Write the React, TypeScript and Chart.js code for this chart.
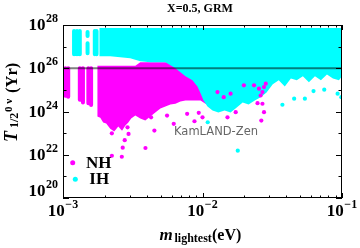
import { useEffect, useRef } from "react";
import { Chart, registerables } from "chart.js";

Chart.register(...registerables);

const chartTitle = "X=0.5, GRM";
const xAxisMin = 1e-3;
const xAxisMax = 1e-1;
const yAxisMin = 1e20;
const yAxisMax = 1e28;
const xTickExponents = [-3, -2, -1];
const yTickExponents = [20, 22, 24, 26, 28];
const kamlandLimit = 1e26;
const kamlandLabel = "KamLAND-Zen";
const kamlandLabelAt = { m: 6.25e-3, t: 7.9e22 };
const legendLabels = ["NH", "IH"];

const NH_COLOR = "#ff00ff";
const IH_COLOR = "#00ffff";

// NH: separate streak columns near m = 1e-3
const nhColumnM = [1.04e-3, 1.09e-3, 1.32e-3, 1.39e-3, 1.52e-3, 1.59e-3];
const nhColumnTop = [1e26, 1e26, 1e26, 1e26, 1e26, 1e26];
const nhColumnBottom = [5.3e24, 4.8e24, 3.5e24, 2.6e24, 2.4e24, 2.0e24];

// NH: dense band (upper and lower edge)
const nhBandM = [
  1.76e-3, 1.85e-3, 1.94e-3, 2.04e-3, 2.18e-3, 2.33e-3, 2.49e-3, 2.65e-3, 2.79e-3,
  2.94e-3, 3.08e-3, 3.3e-3, 3.58e-3, 3.89e-3, 4.23e-3, 4.59e-3, 4.99e-3, 5.42e-3,
  5.89e-3, 6.4e-3, 6.95e-3, 7.55e-3, 8.47e-3, 9.68e-3, 1.05e-2, 1.14e-2, 1.24e-2,
];
const nhBandTop = [
  1.3e26, 1.3e26, 1.3e26, 1.3e26, 1.3e26, 1.3e26, 1.3e26, 1.3e26, 1.3e26, 1.3e26,
  1.3e26, 1.3e26, 1.9e26, 1.9e26, 1.9e26, 1.9e26, 1.9e26, 1.9e26, 1.9e26, 1.9e26,
  1.9e26, 1.9e26, 1.9e26, 1.9e26, 1.9e26, 1.9e26, 1.9e26,
];
const nhBandBottom = [
  5.85e23, 5.2e23, 3.08e23, 2.75e23, 1.6e23, 1.18e23, 2.0e23, 1.3e23, 2.2e23,
  3.08e23, 4.7e23, 6.5e23, 4.7e23, 3.8e23, 5.85e23, 8.9e23, 1.38e24, 1.7e24,
  2.1e24, 2.3e24, 2.9e24, 3.2e24, 3.2e24, 3.2e24, 2.3e24, 1.9e24, 1.9e24,
];

// NH: isolated points
const nhDotM = [
  2.24e-3, 2.24e-3, 2.64e-3, 2.68e-3, 2.77e-3, 2.9e-3, 2.95e-3, 3.9e-3, 4.28e-3,
  4.52e-3, 5.57e-3, 6.22e-3, 7.76e-3, 8.76e-3, 9.4e-3, 1.0e-2, 1.51e-2, 1.73e-2,
  2.64e-2, 2.76e-2,
];
const nhDotT = [
  9.8e22, 8.98e21, 8.1e21, 2.12e22, 4.72e22, 1.86e23, 9.2e22, 2.05e22, 5.4e23,
  1.31e23, 6.5e23, 2.68e23, 7.8e23, 3.54e23, 8.7e23, 5.4e23, 5.4e23, 9.3e23,
  3.8e23, 9.3e23,
];

// NH: points visible on top of the IH cloud
const nhOverM = [
  1.28e-2, 1.42e-2, 1.59e-2, 1.98e-2, 2.34e-2, 2.54e-2, 2.69e-2, 2.76e-2, 2.84e-2,
  2.61e-2, 2.48e-2, 2.69e-2,
];
const nhOverT = [
  7.9e24, 4.6e24, 6.65e24, 1.62e25, 1.62e25, 1.14e25, 7.9e24, 1.35e25, 1.94e25,
  5.5e24, 2.43e24, 2.28e24,
];

// IH: separate streak columns near m = 1e-3
const ihColumnM = [1.2e-3, 1.26e-3, 1.32e-3, 1.5e-3, 1.5e-3, 1.69e-3, 1.74e-3];
const ihColumnTop = [5.3e27, 5.3e27, 5.3e27, 4.7e27, 1.45e27, 5.3e27, 5.3e27];
const ihColumnBottom = [4.4e26, 4.4e26, 4.4e26, 3.1e27, 5.0e26, 4.4e26, 4.4e26];

// IH: dense band, upper edge and lower edge
const ihBandTop = 7.2e27;
const ihBandM = [
  1.82e-3, 2.18e-3, 2.57e-3, 3.03e-3, 3.58e-3, 4.23e-3, 4.99e-3, 5.42e-3, 5.89e-3,
  6.4e-3, 6.95e-3, 7.55e-3, 8.47e-3, 9.2e-3, 9.68e-3, 1.017e-2, 1.086e-2, 1.18e-2,
  1.3e-2, 1.44e-2, 1.59e-2, 1.76e-2, 1.94e-2, 2.14e-2, 2.37e-2, 2.61e-2, 2.88e-2,
  3.19e-2, 3.52e-2, 3.89e-2, 4.3e-2, 4.74e-2, 5.24e-2, 5.79e-2, 6.4e-2, 7.06e-2,
  7.8e-2, 8.61e-2, 9.51e-2, 1e-1,
];
const ihBandBottom = [
  3.6e26, 3.6e26, 3.25e26, 2.9e26, 2.1e26, 1.9e26, 1.9e26, 1.9e26, 1.38e26, 1.0e26,
  6.5e25, 4.25e25, 2.75e25, 1.45e25, 6.9e24, 3.25e24, 1.7e24, 1.12e24, 8.9e23,
  1.12e24, 8.9e23, 1.55e24, 2.6e24, 2.1e24, 3.25e24, 4.5e24, 7.6e24, 1.82e25,
  2.75e25, 1.45e25, 3.4e25, 2.75e25, 4.25e25, 2.23e25, 4.25e25, 2.75e25, 5.2e25,
  3.4e25, 2.75e25, 4.25e25,
];

// IH: isolated points
const ihDotM = [1.09e-2, 1.79e-2, 3.74e-2, 4.54e-2, 5.42e-2, 6.25e-2, 7.46e-2, 9.3e-2, 9.89e-2];
const ihDotT = [3.18e23, 1.54e22, 2.05e24, 3.9e24, 3.9e24, 8.8e24, 1.02e25, 6.65e24, 4.6e24];

const SERIF = '"Liberation Serif", "Times New Roman", serif';

function zip(xs: number[], ys: number[]) {
  return xs.map((x, i) => ({ x, y: ys[i] }));
}

function streaks(xs: number[], tops: number[], bottoms: number[]) {
  const out: { x: number; y: number | null }[] = [];
  xs.forEach((x, i) => {
    out.push({ x, y: tops[i] }, { x, y: bottoms[i] }, { x, y: null });
  });
  return out;
}

function drawPower(
  ctx: CanvasRenderingContext2D,
  exp: string,
  x: number,
  baseline: number,
  align: "right" | "center"
) {
  const baseFont = `bold 17px ${SERIF}`;
  const expFont = `bold 12px ${SERIF}`;
  ctx.font = baseFont;
  const wb = ctx.measureText("10").width;
  ctx.font = expFont;
  const we = ctx.measureText(exp).width;
  const total = wb + we + 0.5;
  const start = align === "right" ? x - total : x - total / 2;
  ctx.textAlign = "left";
  ctx.textBaseline = "alphabetic";
  ctx.font = baseFont;
  ctx.fillText("10", start, baseline);
  ctx.font = expFont;
  ctx.fillText(exp, start + wb + 0.5, baseline - 8);
}

const decorPlugin = {
  id: "decor",
  afterDatasetsDraw(chart: any) {
    const { ctx, chartArea: a, scales } = chart;
    const xs = scales.x;
    const ys = scales.y;
    ctx.save();
    // KamLAND-Zen label
    ctx.fillStyle = "#666666";
    ctx.font = '11.5px "DejaVu Sans", sans-serif';
    ctx.textAlign = "left";
    ctx.textBaseline = "alphabetic";
    ctx.fillText(
      kamlandLabel,
      xs.getPixelForValue(kamlandLabelAt.m),
      ys.getPixelForValue(kamlandLabelAt.t)
    );

    // frame ticks
    ctx.strokeStyle = "#000";
    ctx.lineWidth = 1;
    ctx.beginPath();
    for (let e = xTickExponents[0]; e <= xTickExponents[xTickExponents.length - 1]; e++) {
      for (let k = 1; k <= 9; k++) {
        const v = k * Math.pow(10, e);
        if (v > xAxisMax * 1.0001) break;
        const px = Math.round(xs.getPixelForValue(v)) + 0.5;
        const len = k === 1 ? 5 : 2.5;
        ctx.moveTo(px, a.bottom);
        ctx.lineTo(px, a.bottom - len);
        ctx.moveTo(px, a.top);
        ctx.lineTo(px, a.top + len);
      }
    }
    for (let e = 20; e <= 28; e++) {
      const py = Math.round(ys.getPixelForValue(Math.pow(10, e))) + 0.5;
      const len = e % 2 === 0 ? 6 : 3.5;
      ctx.moveTo(a.left, py);
      ctx.lineTo(a.left + len, py);
      ctx.moveTo(a.right, py);
      ctx.lineTo(a.right - len, py);
    }
    ctx.stroke();
    ctx.strokeRect(a.left + 0.5, a.top + 0.5, a.right - a.left - 1, a.bottom - a.top - 1);

    // tick labels
    ctx.fillStyle = "#000";
    yTickExponents.forEach((e) => {
      const py = ys.getPixelForValue(Math.pow(10, e));
      const baseline = e === 20 ? py - 2 : py + 5;
      drawPower(ctx, String(e), a.left - 5, baseline, "right");
    });
    xTickExponents.forEach((e) => {
      const px = xs.getPixelForValue(Math.pow(10, e));
      drawPower(ctx, "\u2212" + String(-e), px, a.bottom + 18, "center");
    });

    // title
    ctx.font = `bold 12px ${SERIF}`;
    ctx.textAlign = "center";
    ctx.fillText(chartTitle, 200, 12);

    // x axis title
    ctx.textAlign = "left";
    ctx.font = `italic bold 17px ${SERIF}`;
    ctx.fillText("m", 159.5, 240);
    ctx.font = `bold 12px ${SERIF}`;
    ctx.fillText("lightest", 174.5, 242);
    ctx.font = `bold 16px ${SERIF}`;
    ctx.fillText("(eV)", 212, 240);

    // y axis title (rotated)
    ctx.save();
    ctx.translate(17, 142);
    ctx.rotate(-Math.PI / 2);
    ctx.font = `italic bold 18px ${SERIF}`;
    ctx.fillText("T", 0, 0);
    ctx.font = `bold 12px ${SERIF}`;
    ctx.fillText("1/2", 14, 1);
    ctx.font = `bold 11px ${SERIF}`;
    ctx.fillText("0 \u03bd", 30, -5);
    ctx.font = `bold 16.5px ${SERIF}`;
    ctx.fillText("(Yr)", 49, 0);
    ctx.restore();

    // legend
    ctx.fillStyle = NH_COLOR;
    ctx.beginPath();
    ctx.arc(72.7, 162.7, 2.5, 0, Math.PI * 2);
    ctx.fill();
    ctx.fillStyle = IH_COLOR;
    ctx.beginPath();
    ctx.arc(75.3, 179.3, 2.5, 0, Math.PI * 2);
    ctx.fill();
    ctx.fillStyle = "#000";
    ctx.font = `bold 17px ${SERIF}`;
    ctx.textAlign = "left";
    ctx.fillText(legendLabels[0], 86, 167.7);
    ctx.fillText(legendLabels[1], 89.3, 184.3);
    ctx.restore();
  },
};

export default function App() {
  const ref = useRef<HTMLCanvasElement>(null);
  useEffect(() => {
    const pointDs = (data: any[], color: string, order: number) => ({
      data,
      order,
      showLine: false,
      pointRadius: 2.1,
      pointBorderWidth: 0,
      pointBackgroundColor: color,
      pointBorderColor: color,
    });
    const streakDs = (data: any[], color: string, order: number) => ({
      data,
      order,
      showLine: true,
      spanGaps: false,
      borderColor: color,
      borderWidth: 4,
      borderCapStyle: "round",
      pointRadius: 0,
      fill: false,
    });
    const chart = new Chart(ref.current!, {
      type: "scatter",
      data: {
        datasets: [
          {
            data: [
              { x: xAxisMin, y: kamlandLimit },
              { x: xAxisMax, y: kamlandLimit },
            ],
            order: 0,
            showLine: true,
            borderColor: "rgba(0,0,0,0.5)",
            borderWidth: 2,
            pointRadius: 0,
            fill: false,
          },
          pointDs(zip(nhOverM, nhOverT), NH_COLOR, 1),
          pointDs(zip(ihDotM, ihDotT), IH_COLOR, 2),
          streakDs(streaks(ihColumnM, ihColumnTop, ihColumnBottom), IH_COLOR, 3),
          {
            data: zip(ihBandM, ihBandBottom),
            order: 4,
            showLine: true,
            borderWidth: 0,
            borderColor: IH_COLOR,
            backgroundColor: IH_COLOR,
            pointRadius: 0,
            fill: { value: ihBandTop },
          },
          pointDs(zip(nhDotM, nhDotT), NH_COLOR, 5),
          streakDs(streaks(nhColumnM, nhColumnTop, nhColumnBottom), NH_COLOR, 6),
          {
            data: zip(nhBandM, nhBandTop),
            order: 7,
            showLine: true,
            borderWidth: 0,
            borderColor: NH_COLOR,
            pointRadius: 0,
            fill: false,
          },
          {
            data: zip(nhBandM, nhBandBottom),
            order: 7,
            showLine: true,
            borderWidth: 0,
            borderColor: NH_COLOR,
            backgroundColor: NH_COLOR,
            pointRadius: 0,
            fill: "-1",
          },
        ] as any,
      },
      options: {
        animation: false,
        responsive: false,
        devicePixelRatio: 1,
        events: [],
        layout: { padding: { left: 63, right: 18, top: 25, bottom: 50 } },
        scales: {
          x: { type: "logarithmic", min: xAxisMin, max: xAxisMax, display: false },
          y: { type: "logarithmic", min: yAxisMin, max: yAxisMax, display: false },
        },
        plugins: {
          legend: { display: false },
          tooltip: { enabled: false },
          title: { display: false },
        },
      },
      plugins: [decorPlugin],
    } as any);
    return () => chart.destroy();
  }, []);
  return (
    <div
      style={{ position: "fixed", left: 0, top: 0, width: 360, height: 248, background: "#fff" }}
    >
      <canvas ref={ref} width={360} height={248} style={{ width: 360, height: 248 }} />
    </div>
  );
}
